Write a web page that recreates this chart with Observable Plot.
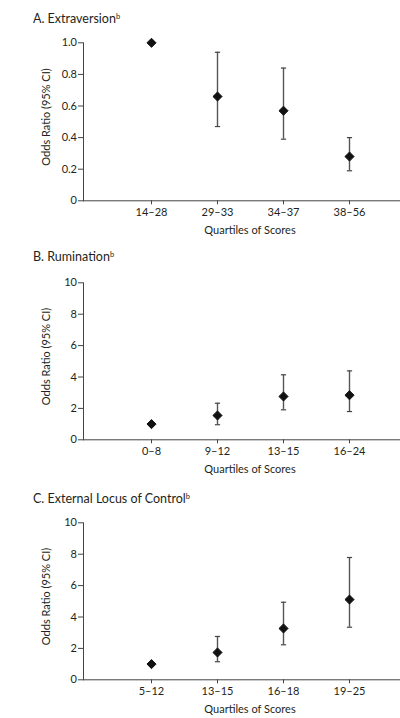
<!DOCTYPE html>
<html>
<head>
<meta charset="utf-8">
<script src="https://cdn.jsdelivr.net/npm/d3@7"></script>
<script src="https://cdn.jsdelivr.net/npm/@observablehq/plot@0.6"></script>
<style>
  html, body { margin: 0; padding: 0; background: #fff; }
  #wrap { position: relative; width: 400px; height: 718px; overflow: hidden; font-family: Lato, "Open Sans", sans-serif; color: #231f20; }
  .title { position: absolute; left: 33px; font-size: 12.5px; line-height: 14px; white-space: nowrap; }
  .title sup { font-size: 7.5px; vertical-align: 4px; line-height: 0; }
  .panel { position: absolute; left: 0; }
</style>
</head>
<body>
<div id="wrap"></div>
<script>
// Panel A: Extraversion
const extraversionCats = ["14–28", "29–33", "34–37", "38–56"];
const extraversionOR   = [1.0, 0.66, 0.57, 0.28];
const extraversionLo   = [null, 0.47, 0.39, 0.19];
const extraversionHi   = [null, 0.94, 0.84, 0.40];

// Panel B: Rumination
const ruminationCats = ["0–8", "9–12", "13–15", "16–24"];
const ruminationOR   = [1.0, 1.55, 2.76, 2.84];
const ruminationLo   = [null, 0.96, 1.91, 1.80];
const ruminationHi   = [null, 2.33, 4.14, 4.39];

// Panel C: External Locus of Control
const locusCats = ["5–12", "13–15", "16–18", "19–25"];
const locusOR   = [1.0, 1.74, 3.27, 5.11];
const locusLo   = [null, 1.15, 2.23, 3.35];
const locusHi   = [null, 2.76, 4.94, 7.79];

const yTicksA = [0, 0.2, 0.4, 0.6, 0.8, 1.0];
const yTicksBC = [0, 2, 4, 6, 8, 10];

const panels = [
  {title: "A. Extraversion", cats: extraversionCats, or: extraversionOR, lo: extraversionLo, hi: extraversionHi,
   domain: [0, 1], ticks: yTicksA, fmt: d => d === 0 ? "0" : d.toFixed(1),
   titleTop: 12, top: 30, height: 215, mt: 12.3, mb: 44.7, labelY: 116.5 - 30},
  {title: "B. Rumination", cats: ruminationCats, or: ruminationOR, lo: ruminationLo, hi: ruminationHi,
   domain: [0, 10], ticks: yTicksBC, fmt: d => String(d),
   titleTop: 250, top: 270, height: 210, mt: 12.3, mb: 40.7, labelY: 356 - 270},
  {title: "C. External Locus of Control", cats: locusCats, or: locusOR, lo: locusLo, hi: locusHi,
   domain: [0, 10], ticks: yTicksBC, fmt: d => String(d),
   titleTop: 492, top: 510, height: 208, mt: 12.3, mb: 38.7, labelY: 596 - 510}
];

const capSymbol = {
  draw(context, size) {
    const w = 2.6;
    context.moveTo(-w, 0);
    context.lineTo(w, 0);
  }
};

const wrap = document.getElementById("wrap");
const ink = "#231f20";

for (const p of panels) {
  const t = document.createElement("div");
  t.className = "title";
  t.style.top = p.titleTop + "px";
  t.innerHTML = p.title + "<sup>b</sup>";
  wrap.appendChild(t);

  const rows = p.cats.map((c, i) => ({cat: c, or: p.or[i], lo: p.lo[i], hi: p.hi[i]}));
  const ci = rows.filter(d => d.lo != null);

  const chart = Plot.plot({
    width: 400,
    height: p.height,
    marginLeft: 83,
    marginRight: 0,
    marginTop: p.mt,
    marginBottom: p.mb,
    style: {fontFamily: "Lato, 'Open Sans', sans-serif", fontSize: "11px", color: ink, background: "white", overflow: "visible"},
    x: {type: "point", domain: p.cats, padding: 1, insetRight: -17},
    y: {domain: p.domain},
    marks: [
      Plot.ruleY([p.domain[0]], {stroke: "#444", strokeWidth: 1}),
      Plot.frame({anchor: "left", stroke: "#444", strokeWidth: 1}),
      Plot.axisY({ticks: p.ticks, tickFormat: p.fmt, tickSize: 5, tickPadding: 1.5, label: null, stroke: "#444", fill: ink}),
      Plot.axisX({tickSize: 4, tickPadding: 3, label: null, stroke: "#444", fill: ink}),
      Plot.ruleX(ci, {x: "cat", y1: "lo", y2: "hi", stroke: "#555", strokeWidth: 1.4}),
      Plot.dot(ci, {x: "cat", y: "lo", symbol: capSymbol, stroke: "#444", fill: "none", strokeWidth: 1.2, r: 3}),
      Plot.dot(ci, {x: "cat", y: "hi", symbol: capSymbol, stroke: "#444", fill: "none", strokeWidth: 1.2, r: 3}),
      Plot.dot(rows, {x: "cat", y: "or", symbol: "diamond2", fill: "#111", stroke: "#111", strokeWidth: 1, r: 4.1}),
      Plot.text(["Quartiles of Scores"], {frameAnchor: "bottom", dx: 8, dy: 33, fill: ink, fontSize: 11}),
      Plot.text(["Odds Ratio (95% CI)"], {frameAnchor: "top-left", dx: -41, dy: p.labelY - p.mt, rotate: -90, fill: ink, fontSize: 11, textAnchor: "middle"})
    ]
  });
  chart.classList.add("panel");
  chart.style.position = "absolute";
  chart.style.top = p.top + "px";
  chart.style.left = "0px";
  wrap.appendChild(chart);
}
</script>
</body>
</html>
